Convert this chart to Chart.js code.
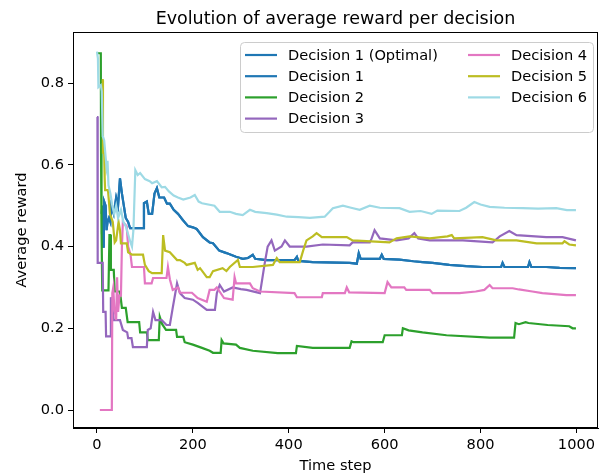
<!DOCTYPE html>
<html>
<head>
<meta charset="utf-8">
<script src="https://cdn.jsdelivr.net/npm/chart.js@4"></script>
<style>
  html, body { margin: 0; padding: 0; background: #fff; }
  #chart { display: block; }
</style>
</head>
<body>
<canvas id="chart" width="600" height="476"></canvas>
<script>
// tick labels
var timeTicks = [0, 200, 400, 600, 800, 1000];
var rewardTicks = [0, 0.2, 0.4, 0.6, 0.8];

var names = ['Decision 1 (Optimal)', 'Decision 1', 'Decision 2', 'Decision 3',
             'Decision 4', 'Decision 5', 'Decision 6'];
var colors = ['#1f77b4', '#1f77b4', '#2ca02c', '#9467bd', '#e377c2', '#bcbd22', '#9edae5'];

// [time step, average reward]
var decision1 = [[10,0.48],[11,0.50],[12,0.40],[14,0.40],[15,0.51],[18,0.50],[20,0.44],[22,0.46],[25,0.47],[28,0.46],
    [30,0.50],[35,0.48],[40,0.52],[44,0.50],[48,0.567],[52,0.53],[56,0.50],[60,0.47],[65,0.46],[69,0.445],[96,0.445],
    [98,0.506],[104,0.51],[108,0.48],[115,0.48],[120,0.53],[125,0.543],[130,0.52],[140,0.52],[146,0.505],[152,0.505],
    [160,0.49],[169,0.48],[179,0.465],[190,0.45],[200,0.447],[208,0.443],[221,0.423],[235,0.41],[242,0.408],[255,0.39],
    [270,0.384],[290,0.375],[304,0.37],[315,0.372],[325,0.38],[330,0.37],[354,0.367],[412,0.367],[417,0.375],[420,0.365],
    [450,0.362],[527,0.36],[542,0.358],[546,0.384],[550,0.37],[590,0.37],[594,0.38],[598,0.37],[631,0.368],[660,0.364],
    [679,0.362],[700,0.36],[735,0.355],[770,0.352],[804,0.35],[843,0.35],[846,0.36],[850,0.35],[899,0.35],[902,0.362],
    [906,0.35],[937,0.35],[965,0.348],[999,0.347]];

var decision2 = [[2,0.873],[8,0.873],[8.5,0.63],[9,0.43],[10,0.44],[11,0.293],[24,0.293],[26,0.428],[28,0.428],[29,0.343],
    [35,0.343],[37,0.29],[48,0.29],[52,0.25],[60,0.25],[64,0.215],[88,0.215],[90,0.19],[104,0.19],[106,0.171],[129,0.171],
    [131,0.228],[136,0.21],[144,0.196],[165,0.196],[167,0.179],[180,0.179],[183,0.166],[200,0.16],[219,0.152],[235,0.145],
    [242,0.14],[258,0.14],[260,0.171],[264,0.163],[290,0.16],[298,0.152],[325,0.145],[377,0.139],[415,0.139],[417,0.157],
    [450,0.152],[527,0.152],[531,0.168],[535,0.166],[596,0.166],[600,0.183],[636,0.183],[638,0.2],[650,0.195],[679,0.19],
    [729,0.183],[819,0.177],[870,0.177],[873,0.213],[880,0.21],[894,0.215],[900,0.213],[940,0.208],[985,0.205],[992,0.2],
    [999,0.2]];

var decision3 = [[0,0.717],[1,0.717],[1.5,0.36],[12,0.36],[13,0.24],[18,0.24],[19,0.18],[28,0.18],[29,0.276],[31,0.26],
    [35,0.22],[48,0.22],[54,0.196],[63,0.19],[65,0.176],[72,0.176],[75,0.154],[104,0.154],[106,0.196],[112,0.2],[117,0.24],
    [122,0.22],[135,0.22],[145,0.208],[152,0.208],[158,0.25],[167,0.31],[173,0.286],[183,0.274],[200,0.27],[210,0.262],
    [229,0.245],[246,0.245],[250,0.286],[256,0.306],[265,0.29],[283,0.30],[300,0.296],[312,0.294],[340,0.286],[342,0.30],
    [350,0.36],[356,0.40],[364,0.415],[371,0.39],[385,0.40],[392,0.415],[402,0.40],[437,0.40],[471,0.405],[527,0.403],
    [533,0.41],[569,0.41],[573,0.42],[579,0.44],[590,0.42],[625,0.415],[650,0.42],[662,0.433],[670,0.42],[694,0.415],
    [763,0.415],[825,0.41],[840,0.425],[860,0.438],[875,0.428],[937,0.423],[971,0.423],[999,0.415]];

var decision4 = [[6,0],[31,0],[32,0.286],[34,0.30],[36,0.25],[40,0.22],[42,0.325],[44,0.24],[47,0.28],[50,0.28],
    [52,0.40],[54,0.46],[62,0.45],[65,0.40],[70,0.38],[73,0.35],[98,0.35],[100,0.31],[114,0.31],[117,0.323],[145,0.323],
    [148,0.35],[152,0.32],[158,0.294],[169,0.30],[173,0.287],[198,0.287],[210,0.274],[229,0.265],[235,0.294],[245,0.294],
    [250,0.30],[265,0.274],[283,0.27],[287,0.325],[290,0.31],[319,0.31],[325,0.298],[340,0.29],[412,0.286],[417,0.276],
    [469,0.276],[471,0.286],[517,0.286],[521,0.30],[526,0.288],[600,0.286],[606,0.313],[614,0.30],[641,0.30],[645,0.294],
    [694,0.294],[700,0.286],[756,0.286],[790,0.29],[808,0.294],[819,0.306],[825,0.298],[867,0.298],[880,0.295],[908,0.29],
    [929,0.286],[979,0.281],[999,0.281]];

var decision5 = [[10,0.807],[12,0.807],[12.5,0.63],[15,0.63],[16,0.57],[17,0.538],[23,0.538],[27,0.48],[33,0.46],
    [37,0.41],[40,0.415],[45,0.46],[48,0.44],[50,0.408],[62,0.408],[65,0.386],[73,0.38],[96,0.38],[100,0.355],[108,0.34],
    [115,0.335],[135,0.335],[138,0.428],[142,0.39],[152,0.386],[167,0.367],[173,0.367],[183,0.36],[187,0.355],[204,0.36],
    [210,0.343],[215,0.347],[229,0.325],[235,0.325],[242,0.34],[262,0.347],[270,0.34],[277,0.35],[294,0.367],[298,0.35],
    [325,0.35],[367,0.355],[375,0.372],[381,0.362],[423,0.362],[430,0.39],[437,0.415],[450,0.425],[458,0.433],[469,0.423],
    [521,0.423],[533,0.415],[610,0.41],[625,0.42],[652,0.425],[694,0.42],[731,0.425],[740,0.428],[745,0.42],[804,0.423],
    [833,0.415],[875,0.415],[917,0.408],[971,0.408],[975,0.413],[985,0.405],[999,0.403]];

var decision6 = [[0,0.877],[2,0.86],[3,0.79],[8,0.795],[10,0.78],[12,0.67],[15,0.66],[18,0.62],[20,0.594],[22,0.61],
    [24,0.55],[28,0.53],[32,0.50],[36,0.48],[40,0.50],[44,0.47],[50,0.49],[55,0.46],[60,0.45],[65,0.43],[70,0.41],
    [73,0.40],[76,0.44],[80,0.587],[85,0.575],[90,0.58],[100,0.565],[110,0.56],[115,0.555],[125,0.56],[135,0.545],
    [142,0.546],[150,0.535],[160,0.525],[169,0.52],[180,0.515],[195,0.52],[204,0.526],[212,0.51],[219,0.506],[245,0.50],
    [256,0.485],[277,0.485],[290,0.48],[304,0.477],[319,0.49],[330,0.485],[354,0.482],[375,0.478],[396,0.473],[420,0.472],
    [444,0.47],[475,0.473],[485,0.485],[492,0.494],[513,0.50],[530,0.495],[548,0.49],[569,0.50],[590,0.495],[631,0.494],
    [652,0.485],[675,0.487],[698,0.48],[710,0.488],[756,0.487],[770,0.495],[787,0.509],[800,0.503],[819,0.497],[850,0.495],
    [888,0.494],[920,0.493],[958,0.494],[980,0.489],[999,0.489]];

var series = [decision1, decision1, decision2, decision3, decision4, decision5, decision6];

function toPoints(arr) {
    return arr.map(function (p) { return {x: p[0], y: p[1]}; });
}

var datasets = series.map(function (arr, i) {
    return {
        label: names[i],
        data: toPoints(arr),
        borderColor: colors[i],
        borderWidth: 2.2,
        pointRadius: 0,
        tension: 0,
        fill: false,
        order: series.length - i
    };
});

var font = {family: 'DejaVu Sans', size: 14.6};

// top and right spines
var frame = {
    id: 'frame',
    afterDatasetsDraw: function (chart) {
        var a = chart.chartArea, c = chart.ctx;
        c.save();
        c.strokeStyle = '#000';
        c.lineWidth = 1;
        c.strokeRect(Math.round(a.left) + 0.5, Math.round(a.top) + 0.5,
            Math.round(a.right - a.left) - 1, Math.round(a.bottom - a.top) - 1);
        c.restore();
    }
};

// two column legend inside the axes
var boxLegend = {
    id: 'boxLegend',
    afterDraw: function (chart) {
        var c = chart.ctx;
        c.save();
        c.beginPath();
        c.roundRect(240.5, 42.5, 353, 90, 4);
        c.fillStyle = 'rgba(255,255,255,0.8)';
        c.fill();
        c.strokeStyle = '#cccccc';
        c.lineWidth = 1;
        c.stroke();
        c.font = '14.6px "DejaVu Sans"';
        c.textBaseline = 'middle';
        names.forEach(function (name, i) {
            var col = i < 4 ? 0 : 1;
            var row = i < 4 ? i : i - 4;
            var x = col ? 468 : 245;
            var y = 55 + row * 21.2;
            c.strokeStyle = colors[i];
            c.lineWidth = 2.2;
            c.beginPath();
            c.moveTo(x, y);
            c.lineTo(x + 32, y);
            c.stroke();
            c.fillStyle = '#000';
            c.fillText(name, x + 43, y + 1);
        });
        c.restore();
    }
};

var ctx = document.getElementById('chart').getContext('2d');
var chart = new Chart(ctx, {
    type: 'line',
    data: {datasets: datasets},
    plugins: [frame, boxLegend],
    options: {
        responsive: false,
        animation: false,
        devicePixelRatio: 1,
        layout: {padding: {right: 2}},
        plugins: {
            legend: {display: false},
            tooltip: {enabled: false},
            title: {
                display: true,
                text: 'Evolution of average reward per decision',
                fullSize: false,
                color: '#000',
                font: {family: 'DejaVu Sans', size: 17.5, weight: 'normal'},
                padding: {top: 9, bottom: 2}
            }
        },
        scales: {
            x: {
                type: 'linear',
                min: -50,
                max: 1045,
                afterBuildTicks: function (scale) {
                    scale.ticks = timeTicks.map(function (v) { return {value: v}; });
                },
                afterFit: function (scale) { scale.height = 48; },
                ticks: {color: '#000', font: font, padding: 3, maxRotation: 0,
                    callback: function (v) { return String(v); }},
                grid: {drawOnChartArea: false, tickLength: 5, color: '#000'},
                border: {color: '#000', width: 1},
                title: {display: true, text: 'Time step', color: '#000', font: font,
                    padding: {top: 0, bottom: 1}}
            },
            y: {
                type: 'linear',
                min: -0.044,
                max: 0.925,
                afterBuildTicks: function (scale) {
                    scale.ticks = rewardTicks.map(function (v) { return {value: v}; });
                },
                afterFit: function (scale) { scale.width = 73; },
                ticks: {color: '#000', font: font, padding: 4,
                    callback: function (v) { return v.toFixed(1); }},
                grid: {drawOnChartArea: false, tickLength: 5, color: '#000'},
                border: {color: '#000', width: 1},
                title: {display: true, text: 'Average reward', color: '#000', font: font,
                    padding: {top: 13, bottom: 0}}
            }
        }
    }
});
</script>
</body>
</html>
